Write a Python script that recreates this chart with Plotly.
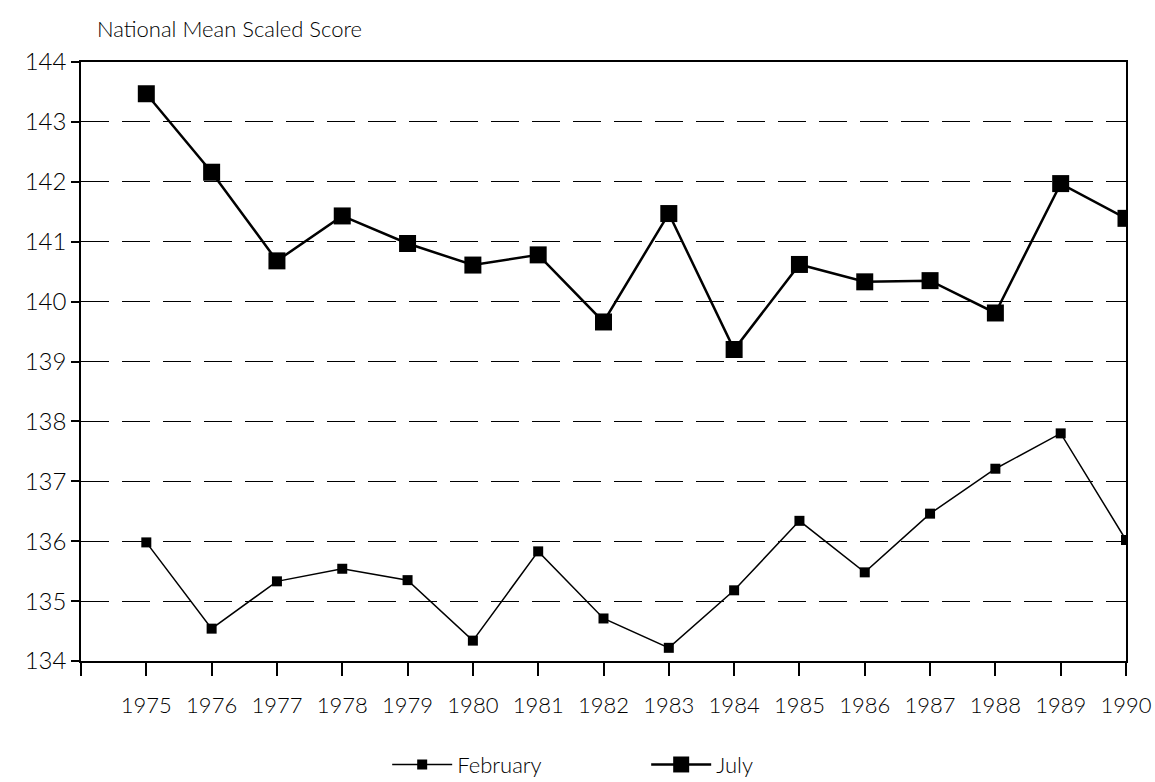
import plotly.graph_objects as go

years = list(range(1975, 1991))
february = [135.98, 134.54, 135.33, 135.54, 135.35, 134.34, 135.83, 134.71,
            134.22, 135.18, 136.34, 135.48, 136.46, 137.21, 137.80, 136.02]
july = [143.47, 142.16, 140.68, 141.43, 140.97, 140.61, 140.78, 139.66,
        141.47, 139.20, 140.62, 140.33, 140.35, 139.81, 141.97, 141.39]
y_ticks = list(range(134, 145))
x_tick_vals = [1974] + years
x_tick_text = [""] + [str(y) for y in years]

FONT = "Lato"

fig = go.Figure()
fig.add_trace(go.Scatter(
    x=years, y=february, name="February", mode="lines+markers",
    line=dict(color="black", width=1.5),
    marker=dict(symbol="square", size=10, color="black"),
))
fig.add_trace(go.Scatter(
    x=years, y=july, name="July", mode="lines+markers",
    line=dict(color="black", width=2.5),
    marker=dict(symbol="square", size=17, color="black"),
))

fig.update_layout(
    width=1155, height=782,
    margin=dict(l=81, r=29, t=62, b=121, autoexpand=False),
    paper_bgcolor="white", plot_bgcolor="white",
    font=dict(family=FONT, color="black", size=22, weight=300),
    showlegend=True,
    legend=dict(orientation="h", x=0.293, xanchor="left", y=-0.138, yanchor="top",
                font=dict(size=22, family=FONT, weight=300),
                entrywidth=184, entrywidthmode="pixels", itemwidth=60),
    annotations=[dict(text="National Mean Scaled Score", xref="paper", yref="paper",
                      x=0.013, y=1.03, xanchor="left", yanchor="bottom",
                      showarrow=False, font=dict(size=22, family=FONT, weight=300))],
)
fig.update_xaxes(
    range=[1974, 1990], tickvals=x_tick_vals, ticktext=x_tick_text,
    showgrid=False, zeroline=False, showline=True, linecolor="black", linewidth=1.5,
    mirror=True, ticks="outside", ticklen=13, tickcolor="black", tickwidth=1.5,
    tickfont=dict(size=22), ticklabelstandoff=11, automargin=False,
)
fig.update_yaxes(
    range=[134, 144], tickvals=y_ticks,
    showgrid=True, gridcolor="black", gridwidth=1.2, griddash="28px,13px",
    zeroline=False, showline=True, linecolor="black", linewidth=1.5, mirror=True,
    ticks="outside", ticklen=8, tickcolor="black", tickwidth=1.5,
    tickfont=dict(size=24), automargin=False,
)

fig.write_html("out.html", config={"displayModeBar": False},
               post_script="document.body.style.margin='0';document.body.style.overflow='hidden';")
